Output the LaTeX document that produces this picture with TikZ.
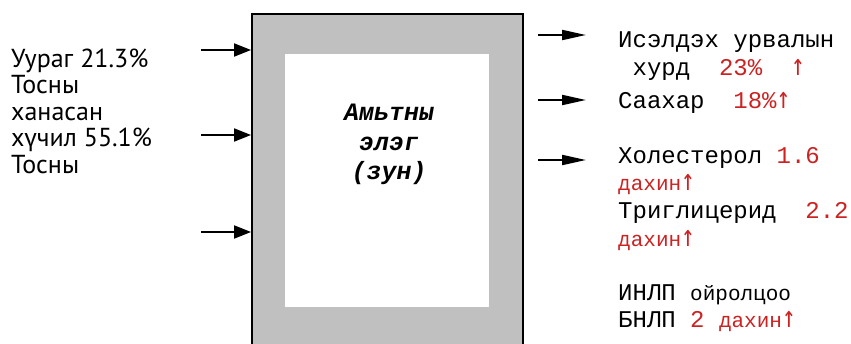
\documentclass[tikz,border=0pt]{standalone}
\usepackage{fontspec}
\usepackage{graphicx}
\setmainfont{PT Sans}
\setmonofont{Liberation Mono}
\newfontfamily\boxfont[FakeSlant=0.18]{Liberation Mono Bold}
\newfontfamily\arrowfont{DejaVu Sans Mono}
\usetikzlibrary{arrows.meta}
\definecolor{boxgray}{RGB}{192,192,192}
\definecolor{redt}{RGB}{204,34,34}
\begin{document}
\begin{tikzpicture}[x=1pt,y=-1pt,
  lefttxt/.style={anchor=base west,inner sep=0pt,font=\fontsize{26}{28}\selectfont},
  righttxt/.style={anchor=base west,inner sep=0pt,font=\ttfamily\fontsize{24}{26}\selectfont},
  midtxt/.style={anchor=base,inner sep=0pt,font=\boxfont\fontsize{25}{27}\selectfont},
  inarrow/.style={line width=2pt,-{Triangle[length=17pt,width=13pt]}},
  outarrow/.style={line width=2pt,-{Triangle[length=24pt,width=10pt]}}]
\useasboundingbox (0,0) rectangle (851,343);
\clip (0,0) rectangle (851,343);
\newcommand\sm[1]{{\fontsize{21}{24}\selectfont #1}}
\newcommand\up{\makebox[14.4pt][l]{\scalebox{0.95}[1.25]{\arrowfont\fontsize{24}{24}\selectfont ↑}}}
% box
\node[draw,fill=boxgray,line width=2pt,minimum width=271pt,minimum height=360pt,
      anchor=north west,inner sep=0pt] (box) at (251,13) {};
\node[fill=white,minimum width=204pt,minimum height=253pt,anchor=north west,inner sep=0pt] (inner) at (285,54) {};
\node[midtxt] (m1) at (388,120) {Амьтны};
\node[midtxt] (m2) at (388,150) {элэг};
\node[midtxt] (m3) at (388,179) {(зун)};
% left text
\node[lefttxt] (l1) at (11,67) {Ууpаг 21.3\%};
\node[lefttxt] (l2) at (11,93.5) {Тосны};
\node[lefttxt] (l3) at (11,120) {ханасан};
\node[lefttxt] (l4) at (11,146.5) {хүчил 55.1\%};
\node[lefttxt] (l5) at (11,173) {Тосны};
% left arrows
\coordinate (a1) at (201,50);
\coordinate (a2) at (201,135);
\coordinate (a3) at (201,232);
\draw[inarrow] (a1) -- (a1 -| box.west);
\draw[inarrow] (a2) -- (a2 -| box.west);
\draw[inarrow] (a3) -- (a3 -| box.west);
% right arrows
\coordinate (b1s) at (538,35);  \coordinate (b1e) at (586,35);
\coordinate (b2s) at (538,100); \coordinate (b2e) at (586,100);
\coordinate (b3s) at (538,160); \coordinate (b3e) at (586,160);
\draw[outarrow] (b1s) -- (b1e);
\draw[outarrow] (b2s) -- (b2e);
\draw[outarrow] (b3s) -- (b3e);
% right text
\node[righttxt] (r1) at (618,47) {Исэлдэх урвалын};
\node[righttxt] (r2) at (618,75) {~хурд~~\textcolor{redt}{23\%~~\up}};
\node[righttxt] (r3) at (618,108) {Саахар~~\textcolor{redt}{18\%\up}};
\node[righttxt] (r4) at (618,163) {Холестерол \textcolor{redt}{1.6}};
\node[righttxt] (r5) at (618,190) {\textcolor{redt}{\sm{дахин}\up}};
\node[righttxt] (r6) at (618,218) {Триглицерид~~\textcolor{redt}{2.2}};
\node[righttxt] (r7) at (618,246) {\textcolor{redt}{\sm{дахин}\up}};
\node[righttxt] (r8) at (618,300) {ИНЛП \sm{ойролцоо}};
\node[righttxt] (r9) at (618,327) {БНЛП \textcolor{redt}{2 \sm{дахин}\up}};
\end{tikzpicture}
\end{document}
